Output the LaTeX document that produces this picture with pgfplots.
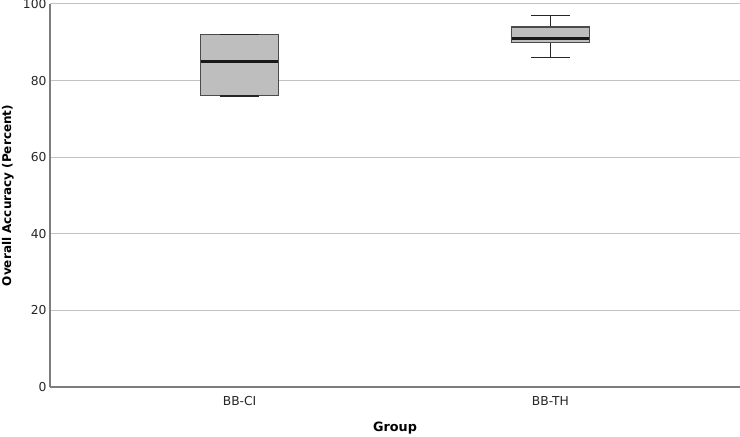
\documentclass[border=0pt]{standalone}
\usepackage{fontspec}
\setmainfont{DejaVu Sans}
\usepackage{pgfplots}
\pgfplotsset{compat=1.18}
\definecolor{boxfill}{RGB}{190,190,190}
\definecolor{boxedge}{RGB}{75,75,75}
\definecolor{gridc}{RGB}{195,195,195}
\definecolor{axisc}{RGB}{125,125,125}
\begin{document}
\begin{tikzpicture}
\begin{axis}[
  scale only axis,
  width=690pt, height=383pt,
  xmin=0.39, xmax=2.61,
  ymin=0, ymax=100,
  xtick={1,2}, xticklabels={BB-CI,BB-TH},
  ytick={0,20,40,60,80,100},
  ymajorgrids,
  grid style={gridc, line width=1pt},
  axis x line*=bottom, axis y line*=left,
  axis line style={axisc, line width=1.2pt, -},
  major tick length=0pt,
  tick label style={font=\fontsize{12.3}{14}\selectfont, text=black!85},
  /pgf/number format/assume math mode=true,
  xticklabel style={yshift=-6pt},
  ylabel={\bfseries Overall Accuracy (Percent)},
  xlabel={\bfseries Group},
  ylabel style={font=\fontsize{12}{14}\selectfont, at={(axis description cs:-0.061,0.5)}, anchor=center},
  xlabel style={font=\fontsize{12.8}{14}\selectfont, at={(axis description cs:0.5,-0.107)}, anchor=center},
  clip=false,
]
% BB-CI
\addplot[draw=boxedge, fill=boxfill, line width=1.1pt] coordinates {(0.875,76) (1.125,76) (1.125,92) (0.875,92)} -- cycle;
\addplot[black!85, line width=1.5pt] coordinates {(0.9375,92) (1.0625,92)};
\addplot[black!85, line width=1.5pt] coordinates {(0.9375,76) (1.0625,76)};
\addplot[black!90, line width=2.6pt] coordinates {(0.875,85) (1.125,85)};
% BB-TH
\addplot[black!85, line width=1.5pt] coordinates {(2,94) (2,97)};
\addplot[black!85, line width=1.5pt] coordinates {(2,90) (2,86)};
\addplot[black!85, line width=1.5pt] coordinates {(1.9375,97) (2.0625,97)};
\addplot[black!85, line width=1.5pt] coordinates {(1.9375,86) (2.0625,86)};
\addplot[draw=boxedge, fill=boxfill, line width=1.1pt] coordinates {(1.875,90) (2.125,90) (2.125,94) (1.875,94)} -- cycle;
\addplot[black!90, line width=2.6pt] coordinates {(1.875,91) (2.125,91)};
\end{axis}
\pgfresetboundingbox
\path[use as bounding box] (-50pt,-50pt) rectangle (690pt,387pt);
\end{tikzpicture}
\end{document}
